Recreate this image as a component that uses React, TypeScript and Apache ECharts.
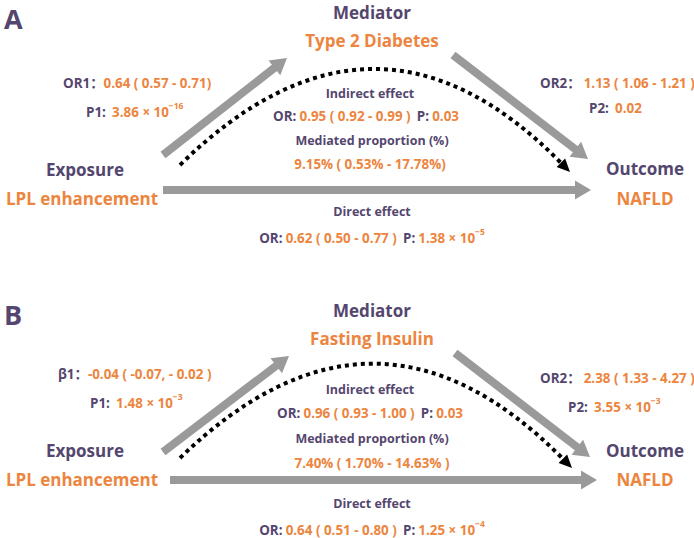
import React, { useEffect, useRef } from "react";
import * as echarts from "echarts";

// ---- data ----
const panelTags = ["A", "B"];
const roleLabels = ["Exposure", "Mediator", "Outcome"];
const exposureNames = ["LPL enhancement", "LPL enhancement"];
const outcomeNames = ["NAFLD", "NAFLD"];
const mediatorNames = ["Type 2 Diabetes", "Fasting Insulin"];
const path1Names = ["OR1", "β1"];
const path1Estimates = ["0.64 ( 0.57 - 0.71)", "-0.04 ( -0.07, - 0.02 )"];
const path1PMantissa = ["3.86", "1.48"];
const path1PExponent = ["−16", "−3"];
const path2Names = ["OR2", "OR2"];
const path2Estimates = ["1.13 ( 1.06 - 1.21 )", "2.38 ( 1.33 - 4.27 )"];
const path2PMantissa = ["0.02", "3.55"];
const path2PExponent = ["", "−3"];
const indirectOR = ["0.95 ( 0.92 - 0.99 )", "0.96 ( 0.93 - 1.00 )"];
const indirectP = ["0.03", "0.03"];
const mediatedProportion = ["9.15% ( 0.53% - 17.78%)", "7.40% ( 1.70% - 14.63% )"];
const directOR = ["0.62 ( 0.50 - 0.77 )", "0.64 ( 0.51 - 0.80 )"];
const directPMantissa = ["1.38", "1.25"];
const directPExponent = ["−5", "−4"];

// ---- layout (pixels) ----
const PURPLE = "#54466e";
const ORANGE = "#ec8540";
const GRAY = "#9a9a9a";
const FONT = '"Open Sans", "Liberation Sans", "Noto Sans CJK SC", sans-serif';
const SMALL = 12.5;
const VAL = 13.4;
const BIG = 17;

const layouts = [
  {
    tag: [4, 18], mediatorRole: [372, 12], mediatorName: [372, 40],
    p1Est: [63, 83], p1P: [86, 112], p2Est: [540, 83], p2P: [589, 108],
    indirect: [370, 93], indirectLine: [366, 116], mpLabel: [372, 140], mpValue: [370, 164],
    exposureRole: [85, 169], exposureName: [82, 198], outcomeRole: [645, 168], outcomeName: [645, 198],
    direct: [372, 211], directLine: [372, 238],
    arrowA: [163, 155, 287, 58], arrowB: [453, 55, 588, 159], arrowC: [163, 190, 591, 190],
    curve: [180, 165, 375, -26, 570, 172],
  },
  {
    tag: [4, 314], mediatorRole: [372, 310], mediatorName: [372, 338],
    p1Est: [58, 374], p1P: [90, 403], p2Est: [540, 378], p2P: [568, 407],
    indirect: [370, 389], indirectLine: [370, 413], mpLabel: [372, 438], mpValue: [372, 463],
    exposureRole: [85, 450], exposureName: [82, 479], outcomeRole: [645, 450], outcomeName: [645, 479],
    direct: [372, 503], directLine: [372, 530],
    arrowA: [163, 452, 289, 356], arrowB: [455, 353, 590, 457], arrowC: [170, 480, 597, 480],
    curve: [180, 458, 375, 269, 572, 468],
  },
];

const rich = {
  p: { fill: PURPLE, fontSize: VAL, fontWeight: "bold", fontFamily: FONT, lineHeight: 22 },
  o: { fill: ORANGE, fontSize: VAL, fontWeight: "bold", fontFamily: FONT, lineHeight: 22 },
  s: { fill: ORANGE, fontSize: 8.5, fontWeight: "bold", fontFamily: FONT, lineHeight: 9, verticalAlign: "top" },
};

function richText(x: number, y: number, text: string, align: string) {
  return {
    type: "text", x, y,
    style: { text, rich, align, textAlign: align, verticalAlign: "middle", textVerticalAlign: "middle", fontFamily: FONT },
  };
}

function plainText(x: number, y: number, text: string, color: string, size: number, align = "center") {
  return {
    type: "text", x, y,
    style: {
      text, fill: color, fontSize: size, fontWeight: "bold", fontFamily: FONT,
      align, textAlign: align, verticalAlign: "middle", textVerticalAlign: "middle",
    },
  };
}

function pText(mant: string, exp: string) {
  return exp ? `{o|${mant} × 10}{s|${exp}}` : `{o|${mant}}`;
}

function arrow(seg: number[], color: string, width: number, headLen: number, headW: number) {
  const [x0, y0, x1, y1] = seg;
  const dx = x1 - x0, dy = y1 - y0;
  const L = Math.hypot(dx, dy);
  const ux = dx / L, uy = dy / L;
  const bx = x1 - ux * headLen, by = y1 - uy * headLen;
  const nx = -uy, ny = ux;
  return [
    { type: "line", shape: { x1: x0, y1: y0, x2: bx + ux * 1, y2: by + uy * 1 }, style: { stroke: color, lineWidth: width } },
    {
      type: "polygon",
      shape: { points: [[x1, y1], [bx + nx * headW / 2, by + ny * headW / 2], [bx - nx * headW / 2, by - ny * headW / 2]] },
      style: { fill: color },
    },
  ];
}

function dottedCurve(c: number[]) {
  const [x0, y0, cx, cy, x1, y1] = c;
  const dx = x1 - cx, dy = y1 - cy;
  const L = Math.hypot(dx, dy);
  const ux = dx / L, uy = dy / L;
  const headLen = 13, headW = 12;
  const bx = x1 - ux * headLen, by = y1 - uy * headLen;
  const nx = -uy, ny = ux;
  return [
    {
      type: "bezierCurve",
      shape: { x1: x0, y1: y0, cpx1: cx, cpy1: cy, x2: bx, y2: by },
      style: { stroke: "#000", lineWidth: 4, lineDash: [4, 4], fill: null },
    },
    {
      type: "polygon",
      shape: { points: [[x1, y1], [bx + nx * headW / 2, by + ny * headW / 2], [bx - nx * headW / 2, by - ny * headW / 2]] },
      style: { fill: "#000" },
    },
  ];
}

function buildPanel(i: number) {
  const l = layouts[i];
  const els: any[] = [];
  els.push(...arrow(l.arrowA, GRAY, 8, 16, 19));
  els.push(...arrow(l.arrowB, GRAY, 8, 16, 19));
  els.push(...arrow(l.arrowC, GRAY, 8, 16, 19));
  els.push(...dottedCurve(l.curve));
  els.push(plainText(l.tag[0], l.tag[1], panelTags[i], PURPLE, 27, "left"));
  els.push(plainText(l.mediatorRole[0], l.mediatorRole[1], roleLabels[1], PURPLE, BIG));
  els.push(plainText(l.mediatorName[0], l.mediatorName[1], mediatorNames[i], ORANGE, BIG));
  els.push(plainText(l.exposureRole[0], l.exposureRole[1], roleLabels[0], PURPLE, BIG));
  els.push(plainText(l.exposureName[0], l.exposureName[1], exposureNames[i], ORANGE, BIG));
  els.push(plainText(l.outcomeRole[0], l.outcomeRole[1], roleLabels[2], PURPLE, BIG));
  els.push(plainText(l.outcomeName[0], l.outcomeName[1], outcomeNames[i], ORANGE, BIG));
  els.push(richText(l.p1Est[0], l.p1Est[1], `{p|${path1Names[i]}：}{o|${path1Estimates[i]}}`, "left"));
  els.push(richText(l.p1P[0], l.p1P[1], `{p|P1:}  ${pText(path1PMantissa[i], path1PExponent[i])}`, "left"));
  els.push(richText(l.p2Est[0], l.p2Est[1], `{p|${path2Names[i]}：} {o|${path2Estimates[i]}}`, "left"));
  els.push(richText(l.p2P[0], l.p2P[1], `{p|P2:}  ${pText(path2PMantissa[i], path2PExponent[i])}`, "left"));
  els.push(plainText(l.indirect[0], l.indirect[1], "Indirect effect", PURPLE, SMALL));
  els.push(richText(l.indirectLine[0], l.indirectLine[1], `{p|OR:} {o|${indirectOR[i]}}  {p|P:} {o|${indirectP[i]}}`, "center"));
  els.push(plainText(l.mpLabel[0], l.mpLabel[1], "Mediated proportion (%)", PURPLE, SMALL));
  els.push(richText(l.mpValue[0], l.mpValue[1], `{o|${mediatedProportion[i]}}`, "center"));
  els.push(plainText(l.direct[0], l.direct[1], "Direct effect", PURPLE, SMALL));
  els.push(richText(l.directLine[0], l.directLine[1], `{p|OR:} {o|${directOR[i]}}  {p|P:} ${pText(directPMantissa[i], directPExponent[i])}`, "center"));
  return els;
}

export default function App() {
  const ref = useRef<HTMLDivElement>(null);
  useEffect(() => {
    if (!ref.current) return;
    const chart = echarts.init(ref.current, null, { renderer: "svg" });
    chart.setOption({
      animation: false,
      backgroundColor: "#ffffff",
      graphic: { elements: [...buildPanel(0), ...buildPanel(1)] },
    });
    return () => chart.dispose();
  }, []);
  return (
    <div
      ref={ref}
      style={{ position: "fixed", left: 0, top: 0, width: 694, height: 538, background: "#fff" }}
    />
  );
}
